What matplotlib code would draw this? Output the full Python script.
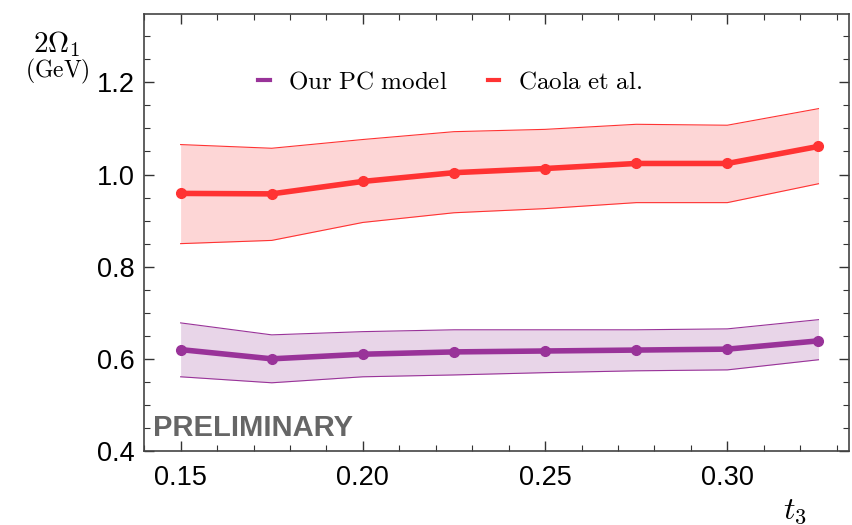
import numpy as np
import matplotlib
matplotlib.use("Agg")
import matplotlib.pyplot as plt
from matplotlib.ticker import MultipleLocator

# t3 values
t3 = [0.15, 0.175, 0.20, 0.225, 0.25, 0.275, 0.30, 0.325]

# Our PC model (central, upper, lower)
pc_mid = [0.620, 0.600, 0.610, 0.615, 0.617, 0.619, 0.621, 0.639]
pc_hi = [0.678, 0.652, 0.659, 0.663, 0.663, 0.663, 0.665, 0.685]
pc_lo = [0.561, 0.548, 0.561, 0.565, 0.570, 0.574, 0.576, 0.598]

# Caola et al. (central, upper, lower)
caola_mid = [0.959, 0.958, 0.985, 1.004, 1.013, 1.024, 1.024, 1.061]
caola_hi = [1.065, 1.057, 1.076, 1.093, 1.098, 1.109, 1.107, 1.143]
caola_lo = [0.850, 0.857, 0.896, 0.917, 0.926, 0.939, 0.939, 0.980]

purple = "#993399"
red = "#ff3333"

plt.rcParams["mathtext.fontset"] = "cm"
plt.rcParams["font.family"] = "Liberation Sans"

fig = plt.figure(figsize=(8.53, 5.25), dpi=100)
ax = fig.add_axes([0.169, 0.141, 0.826, 0.832])

ax.fill_between(t3, pc_lo, pc_hi, color="#e8d5e8", lw=0)
ax.plot(t3, pc_hi, color=purple, lw=0.8)
ax.plot(t3, pc_lo, color=purple, lw=0.8)
ax.plot(t3, pc_mid, color=purple, lw=4, marker="o", ms=7,
        label=r"$\mathrm{Our\ PC\ model}$")

ax.fill_between(t3, caola_lo, caola_hi, color="#fdd6d6", lw=0)
ax.plot(t3, caola_hi, color=red, lw=0.8)
ax.plot(t3, caola_lo, color=red, lw=0.8)
ax.plot(t3, caola_mid, color=red, lw=4, marker="o", ms=7,
        label=r"$\mathrm{Caola\ et\ al.}$")

ax.set_xlim(0.14, 0.3333)
ax.set_ylim(0.4, 1.348)
ax.xaxis.set_major_locator(MultipleLocator(0.05))
ax.xaxis.set_minor_locator(MultipleLocator(0.01))
ax.yaxis.set_major_locator(MultipleLocator(0.2))
ax.yaxis.set_minor_locator(MultipleLocator(0.05))
ax.xaxis.set_major_formatter(plt.FormatStrFormatter("%.2f"))
ax.yaxis.set_major_formatter(plt.FormatStrFormatter("%.1f"))
ax.tick_params(which="both", direction="in", top=True, right=True,
               labelsize=19.5, color="#333333")
ax.tick_params(which="major", length=7, width=1, pad=7)
ax.tick_params(which="minor", length=4, width=0.8)
ax.tick_params(axis="x", which="major", pad=10)
for s in ax.spines.values():
    s.set_color("#444444")
    s.set_linewidth(1.2)

leg = ax.legend(loc="center left", bbox_to_anchor=(0.13, 0.845), ncol=2,
                frameon=False, fontsize=18, handlelength=0.45,
                columnspacing=1.6, handletextpad=0.75)
for h in leg.legend_handles:
    h.set_marker("")
    h.set_linewidth(3)

ax.text(0.012, 0.035, "PRELIMINARY", transform=ax.transAxes,
        fontsize=21, fontweight="bold", color="#666666")

fig.text(0.067, 0.9, r"$2\Omega_1$", fontsize=21, ha="center")
fig.text(0.067, 0.852, r"$(\mathrm{GeV})$", fontsize=17, ha="center")
fig.text(0.932, 0.012, r"$t_3$", fontsize=23, ha="center")

fig.savefig("out.png", dpi=100)
